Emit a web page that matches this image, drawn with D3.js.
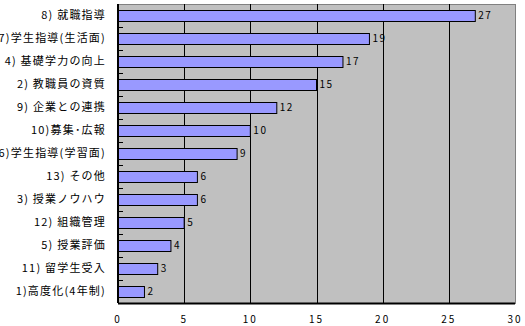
<!DOCTYPE html>
<html>
<head>
<meta charset="utf-8">
<script src="https://cdn.jsdelivr.net/npm/d3@7/dist/d3.min.js"></script>
<style>
  html, body { margin: 0; padding: 0; background: #fff; }
  svg { display: block; }
  text { font-family: "Noto Sans CJK JP", "Noto Sans", sans-serif; fill: #000; }
</style>
</head>
<body>
<svg id="chart" width="525" height="326"></svg>
<script>
// Categories (top to bottom) and their counts
const categories = [
  "8) 就職指導",
  "7)学生指導(生活面)",
  "4) 基礎学力の向上",
  "2) 教職員の資質",
  "9) 企業との連携",
  "10)募集･広報",
  "6)学生指導(学習面)",
  "13) その他",
  "3) 授業ノウハウ",
  "12) 組織管理",
  "5) 授業評価",
  "11) 留学生受入",
  "1)高度化(4年制)"
];
const values = [27, 19, 17, 15, 12, 10, 9, 6, 6, 5, 4, 3, 2];
const xTicks = [0, 5, 10, 15, 20, 25, 30];

(function () {
  const svg = d3.select("#chart");
  const plotLeft = 118, plotRight = 515, plotTop = 4, plotBottom = 303;

  const x = d3.scaleLinear().domain([0, 30]).range([plotLeft, plotRight]);
  const y = d3.scaleBand().domain(categories).range([plotTop, plotBottom])
    .paddingInner(0.52).paddingOuter(0.26);

  // plot background
  svg.append("rect")
    .attr("x", plotLeft + 0.5).attr("y", plotTop + 0.5)
    .attr("width", plotRight - plotLeft).attr("height", plotBottom - plotTop)
    .attr("fill", "#c0c0c0")
    .attr("stroke", "#808080").attr("stroke-width", 1);

  // vertical gridlines
  svg.append("g").selectAll("line")
    .data(xTicks.filter(d => d > 0 && d < 30))
    .join("line")
    .attr("x1", d => Math.round(x(d)) + 0.5).attr("x2", d => Math.round(x(d)) + 0.5)
    .attr("y1", plotTop).attr("y2", plotBottom)
    .attr("stroke", "#000").attr("stroke-width", 1);

  // bars
  svg.append("g").selectAll("rect")
    .data(values)
    .join("rect")
    .attr("x", x(0))
    .attr("y", (d, i) => Math.round(y(categories[i])) + 0.5)
    .attr("width", d => x(d) - x(0))
    .attr("height", Math.round(y.bandwidth()))
    .attr("fill", "#9999ff")
    .attr("stroke", "#000").attr("stroke-width", 1);

  // value labels
  svg.append("g").selectAll("text")
    .data(values)
    .join("text")
    .attr("x", d => x(d) + 3)
    .attr("y", (d, i) => y(categories[i]) + y.bandwidth() / 2)
    .attr("dy", "0.36em")
    .attr("font-size", 10)
    .attr("letter-spacing", "1.5px")
    .text(d => d);

  // category axis
  const yAxis = svg.append("g").attr("transform", `translate(${plotLeft},0)`);
  yAxis.append("line")
    .attr("x1", 0).attr("x2", 0).attr("y1", plotTop).attr("y2", plotBottom)
    .attr("stroke", "#000").attr("stroke-width", 2);
  const step = y.step();
  yAxis.selectAll("line.tick")
    .data(categories.slice(1))
    .join("line")
    .attr("class", "tick")
    .attr("x1", 0).attr("x2", 5)
    .attr("y1", d => Math.round(y(d) - step * y.paddingInner() / 2) + 0.5)
    .attr("y2", d => Math.round(y(d) - step * y.paddingInner() / 2) + 0.5)
    .attr("stroke", "#000").attr("stroke-width", 1);
  yAxis.selectAll("text")
    .data(categories)
    .join("text")
    .attr("x", -12)
    .attr("y", d => y(d) + y.bandwidth() / 2)
    .attr("dy", "0.36em")
    .attr("text-anchor", "end")
    .attr("font-size", 11)
    .attr("letter-spacing", "1.2px")
    .text(d => d);

  // value axis
  const xAxis = svg.append("g");
  xAxis.append("line")
    .attr("x1", plotLeft).attr("x2", plotRight)
    .attr("y1", plotBottom + 0.5).attr("y2", plotBottom + 0.5)
    .attr("stroke", "#000").attr("stroke-width", 2);
  xAxis.selectAll("text")
    .data(xTicks)
    .join("text")
    .attr("x", d => x(d))
    .attr("y", 323)
    .attr("text-anchor", "middle")
    .attr("font-size", 10)
    .attr("letter-spacing", "2px")
    .text(d => d);
})();
</script>
</body>
</html>
